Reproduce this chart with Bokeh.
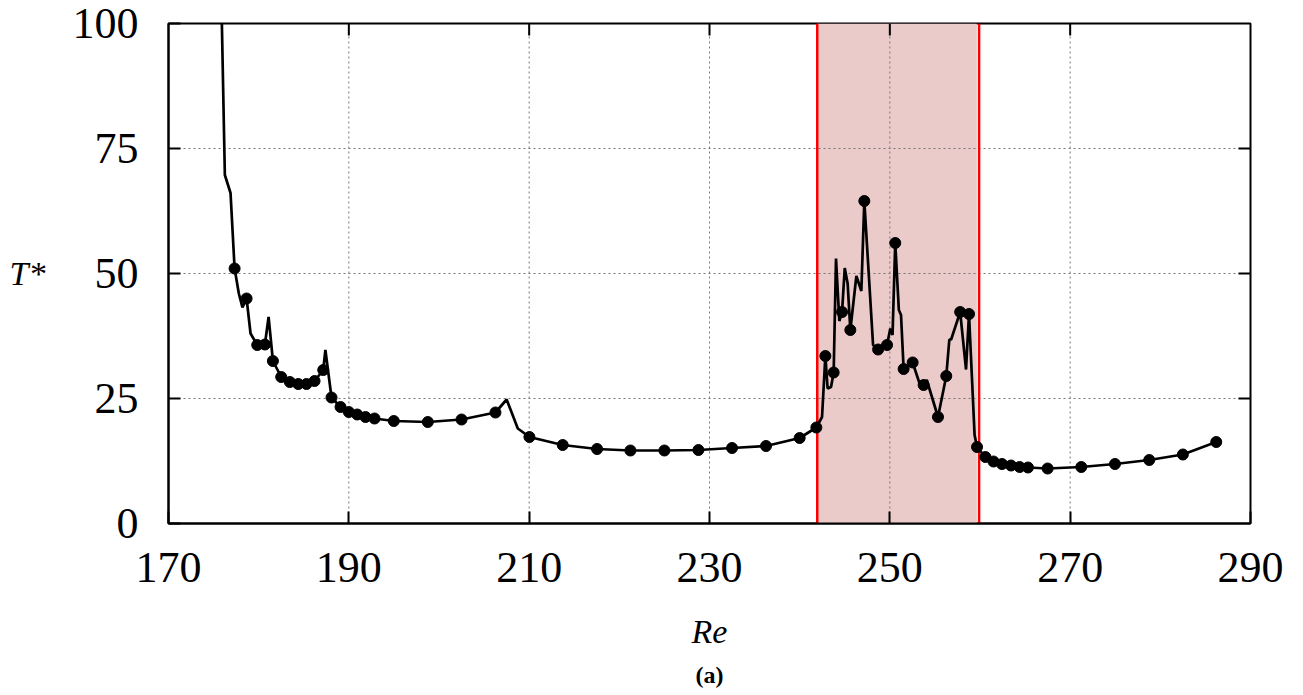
from bokeh.plotting import figure
from bokeh.models import LinearAxis, FixedTicker, Title
from bokeh.embed import file_html
from bokeh.resources import INLINE

# ---- data ----
re_line = [175.7, 176.25, 176.88, 177.33, 177.8, 178.2, 178.66, 179.1, 179.84, 180.69,
           181.1, 181.58, 182.5, 183.46, 184.39, 185.3, 186.2, 187.16, 187.4, 188.08,
           189.08, 190.0, 190.93, 191.85, 192.85, 194.99, 198.76, 202.5, 206.26, 207.5,
           208.74, 210.03, 213.72, 217.53, 221.23, 225.0, 228.77, 232.5, 236.27, 240.0,
           241.85, 242.48, 242.85, 243.1, 243.48, 243.77, 244.03, 244.4, 244.7, 245.0,
           245.32, 245.62, 246.29, 246.84, 247.17, 248.14, 248.7, 249.69, 250.05, 250.3,
           250.6, 251.0, 251.24, 251.53, 252.53, 253.3, 253.75, 254.1, 255.34, 256.26,
           256.6, 256.8, 257.8, 258.45, 258.78, 259.4, 259.67, 260.6, 261.5, 262.44,
           263.44, 264.4, 265.32, 267.5, 271.23, 274.97, 278.77, 282.5, 286.2]
t_line = [120.0, 69.7, 66.1, 51.0, 46.0, 43.2, 45.0, 38.0, 35.7, 35.8,
          41.3, 32.5, 29.3, 28.3, 27.9, 27.9, 28.5, 30.7, 34.7, 25.2,
          23.3, 22.3, 21.8, 21.3, 21.0, 20.5, 20.3, 20.8, 22.2, 24.8,
          19.0, 17.3, 15.7, 14.9, 14.6, 14.6, 14.7, 15.1, 15.5, 17.1,
          19.2, 21.3, 33.5, 27.0, 27.3, 30.2, 53.0, 40.5, 42.3, 51.1,
          48.0, 38.7, 49.5, 46.5, 64.5, 35.7, 34.8, 35.7, 39.0, 37.7,
          56.1, 42.7, 41.7, 30.9, 32.2, 28.0, 27.7, 28.7, 21.3, 29.5,
          36.8, 36.8, 42.3, 30.8, 41.9, 17.7, 15.3, 13.3, 12.4, 11.9,
          11.6, 11.3, 11.2, 11.0, 11.3, 11.9, 12.7, 13.8, 16.3]

re_mark = [177.33, 178.66, 179.84, 180.69, 181.58, 182.5, 183.46, 184.39, 185.3, 186.2,
           187.16, 188.08, 189.08, 190.0, 190.93, 191.85, 192.85, 194.99, 198.76, 202.5,
           206.26, 210.03, 213.72, 217.53, 221.23, 225.0, 228.77, 232.5, 236.27, 240.0,
           241.85, 242.85, 243.77, 244.7, 245.62, 247.17, 248.7, 249.69, 250.6, 251.53,
           252.53, 253.75, 255.34, 256.26, 257.8, 258.78, 259.67, 260.6, 261.5, 262.44,
           263.44, 264.4, 265.32, 267.5, 271.23, 274.97, 278.77, 282.5, 286.2]
t_mark = [51.0, 45.0, 35.7, 35.8, 32.5, 29.3, 28.3, 27.9, 27.9, 28.5,
          30.7, 25.2, 23.3, 22.3, 21.8, 21.3, 21.0, 20.5, 20.3, 20.8,
          22.2, 17.3, 15.7, 14.9, 14.6, 14.6, 14.7, 15.1, 15.5, 17.1,
          19.2, 33.5, 30.2, 42.3, 38.7, 64.5, 34.8, 35.7, 56.1, 30.9,
          32.2, 27.7, 21.3, 29.5, 42.3, 41.9, 15.3, 13.3, 12.4, 11.9,
          11.6, 11.3, 11.2, 11.0, 11.3, 11.9, 12.7, 13.8, 16.3]

band_fill = [241.95, 259.65]
band_lines = [241.95, 259.9]

x_ticks = [170, 190, 210, 230, 250, 270, 290]
y_ticks = [0, 25, 50, 75, 100]

FONT = "Liberation Serif"
X0, X1 = 170, 290
Y0, Y1 = 0, 100

p = figure(width=1303, height=695, x_range=(X0, X1), y_range=(Y0, Y1),
           output_backend="svg", toolbar_location=None,
           min_border_left=168, min_border_right=53, min_border_top=23,
           min_border_bottom=172, x_axis_location=None, y_axis_location=None)
p.grid.visible = False
p.outline_line_color = "black"
p.outline_line_width = 2
p.background_fill_color = "white"
p.border_fill_color = "white"

def style_axis(ax, ticks, standoff):
    ax.ticker = FixedTicker(ticks=ticks)
    ax.axis_line_color = "black"
    ax.axis_line_width = 2
    ax.major_tick_in = 12
    ax.major_tick_out = 0
    ax.major_tick_line_width = 2
    ax.major_tick_line_color = "black"
    ax.minor_tick_line_color = None
    ax.major_label_text_font = FONT
    ax.major_label_text_color = "black"
    ax.major_label_text_font_size = "44px"
    ax.major_label_standoff = standoff
    ax.axis_label_text_font = FONT
    ax.axis_label_text_font_style = "italic"
    ax.axis_label_text_color = "black"

xb = LinearAxis(axis_label="Re")
style_axis(xb, x_ticks, 29)
xb.axis_label_text_font_size = "34px"
xb.axis_label_standoff = 28
p.add_layout(xb, "below")

yl = LinearAxis(axis_label="T*")
style_axis(yl, y_ticks, 30)
yl.axis_label_text_font_size = "34px"
yl.axis_label_orientation = "horizontal"
yl.axis_label_standoff = 24
p.add_layout(yl, "left")

p.add_layout(Title(text="(a)", align="center", text_font=FONT, text_font_size="24px",
                   text_font_style="bold", text_color="black", standoff=15, offset=0),
             "below")

# shaded band
p.quad(left=[band_fill[0]], right=[band_fill[1]], bottom=[Y0], top=[Y1],
       fill_color="#ebcaca", line_color=None)

# grid lines (drawn above the band)
gx = x_ticks[1:-1]
p.multi_line(xs=[[t, t] for t in gx], ys=[[Y0, Y1] for _ in gx],
             line_color="#777777", line_width=1, line_dash="2 3")
gy = y_ticks[1:-1]
p.multi_line(xs=[[X0, X1] for _ in gy], ys=[[t, t] for t in gy],
             line_color="#777777", line_width=1, line_dash="2 3")

# mirrored inward ticks on top and right
tick_dy = 12 / 5.0    # 12 px in y data units
tick_dx = 12 / 9.02   # 12 px in x data units
p.segment(x0=gx, y0=[Y1] * len(gx), x1=gx, y1=[Y1 - tick_dy] * len(gx),
          line_color="black", line_width=2)
p.segment(x0=[X1] * len(gy), y0=gy, x1=[X1 - tick_dx] * len(gy), y1=gy,
          line_color="black", line_width=2)

# red boundary lines
p.multi_line(xs=[[b, b] for b in band_lines], ys=[[Y0, Y1] for _ in band_lines],
             line_color="red", line_width=2.5)

# data
p.line(re_line, t_line, line_color="black", line_width=2.7)
p.scatter(re_mark, t_mark, size=11, color="black")

open("out.html", "w").write(file_html(p, INLINE))
